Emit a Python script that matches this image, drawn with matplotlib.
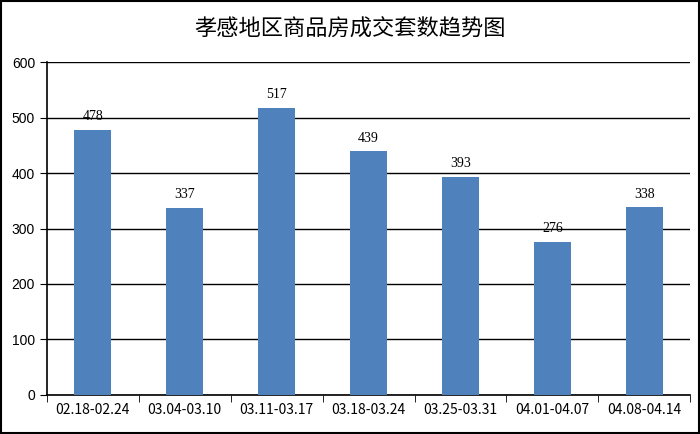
import matplotlib
matplotlib.use('Agg')
import matplotlib.pyplot as plt
from matplotlib.patches import Rectangle
import numpy as np

plt.rcParams['font.family'] = ['Noto Sans CJK SC', 'DejaVu Sans']

weeks = ['02.18-02.24', '03.04-03.10', '03.11-03.17', '03.18-03.24',
         '03.25-03.31', '04.01-04.07', '04.08-04.14']
deals = [478, 337, 517, 439, 393, 276, 338]

fig = plt.figure(figsize=(7, 4.34), dpi=100)
ax = fig.add_axes([0.067, 0.09, 0.919, 0.767])

x = np.arange(len(weeks))
ax.bar(x, deals, width=0.4, color='#4F81BD', zorder=3)
for xi, v in zip(x, deals):
    ax.text(xi, v + 12, str(v), ha='center', va='bottom', fontsize=10,
            family=['Liberation Serif', 'DejaVu Serif'], zorder=4)

ax.set_xlim(-0.5, len(weeks) - 0.5)
ax.set_ylim(0, 600)
ax.set_yticks(range(0, 601, 100))
ax.yaxis.grid(True, color='black', linewidth=1, zorder=1)
ax.set_xticks(x)
ax.set_xticklabels(weeks, fontsize=10)
ax.set_xticks(np.arange(-0.5, len(weeks)), minor=True)
ax.tick_params(axis='x', which='major', length=0, pad=6)
ax.tick_params(axis='x', which='minor', length=5, direction='out', color='black')
ax.tick_params(axis='y', length=5, direction='out', labelsize=10)
for lab in ax.get_yticklabels():
    lab.set_family(['Liberation Sans', 'DejaVu Sans'])

for side in ['top', 'right']:
    ax.spines[side].set_visible(False)
ax.spines['left'].set_linewidth(1.2)
ax.spines['bottom'].set_linewidth(1.2)

fig.suptitle('孝感地区商品房成交套数趋势图', y=0.96, fontsize=16)
fig.patches.append(Rectangle((0.002, 0.003), 0.996, 0.994, transform=fig.transFigure,
                             fill=False, edgecolor='black', linewidth=1.5))

plt.savefig('out.png', dpi=100)
